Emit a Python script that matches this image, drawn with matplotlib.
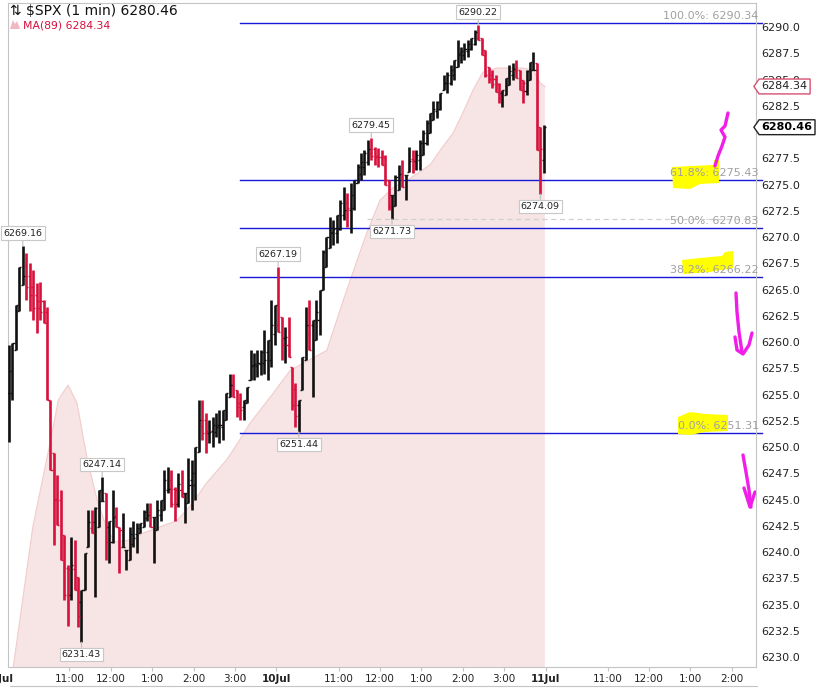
import matplotlib
matplotlib.use("Agg")
import matplotlib.pyplot as plt
from matplotlib.patches import Polygon
from matplotlib.lines import Line2D
from matplotlib.path import Path
import numpy as np

# 5-minute bars (Jul 9 then Jul 10)
highs = [
    6259.7, 6259.9, 6263.5, 6267.1, 6269.16, 6268.5, 6267.5, 6266.9, 6265.6, 6265.7,
    6264.0, 6263.3, 6254.5, 6249.4, 6247.3, 6245.9, 6241.6, 6238.8, 6241.4, 6241.1,
    6237.6, 6236.4, 6239.9, 6244.0, 6244.0, 6244.3, 6245.9, 6247.14, 6245.6, 6243.0,
    6245.9, 6244.3, 6242.4, 6243.7, 6240.2, 6242.4, 6243.0, 6242.8, 6242.8, 6244.0,
    6244.7, 6244.7, 6243.3, 6245.0, 6245.0, 6247.8, 6248.1, 6247.8, 6246.2, 6247.5,
    6247.8, 6245.6, 6249.0, 6248.8, 6250.0, 6254.5, 6254.5, 6253.2, 6252.6, 6252.9,
    6253.2, 6253.5, 6253.5, 6255.1, 6257.0, 6257.0, 6255.4, 6255.1, 6254.5, 6255.7,
    6259.2, 6259.0, 6259.2, 6259.2, 6261.1, 6260.2, 6264.0, 6263.5,
    6267.19, 6262.4, 6261.4, 6262.4, 6257.6, 6256.1, 6254.5, 6258.6, 6263.3, 6264.0,
    6262.1, 6264.0, 6265.0, 6268.8, 6270.0, 6271.9, 6271.6, 6272.1, 6273.5, 6274.8,
    6274.2, 6275.1, 6275.4, 6277.0, 6278.0, 6278.3, 6279.2, 6279.45, 6278.6, 6278.5,
    6278.3, 6277.8, 6275.4, 6274.0, 6275.9, 6276.9, 6277.3, 6275.9, 6278.6, 6278.3,
    6278.3, 6279.2, 6280.2, 6281.1, 6281.8, 6283.0, 6283.0, 6283.7, 6285.4, 6285.7,
    6286.4, 6286.9, 6288.8, 6288.1, 6288.5, 6288.8, 6289.0, 6289.7, 6290.22, 6289.0,
    6287.8, 6286.2, 6285.9, 6285.4, 6284.7, 6284.0, 6285.1, 6286.4, 6286.6, 6286.9,
    6285.9, 6285.0, 6285.9, 6286.7, 6287.6, 6286.6, 6280.5, 6280.7,
]
lows = [
    6250.5, 6254.5, 6259.2, 6263.0, 6265.4, 6264.0, 6263.0, 6262.1, 6260.9, 6262.1,
    6261.8, 6254.5, 6247.8, 6240.7, 6242.6, 6239.2, 6235.4, 6233.0, 6235.4, 6236.4,
    6232.9, 6231.43, 6236.4, 6240.5, 6241.8, 6235.7, 6242.4, 6244.9, 6239.2, 6239.0,
    6240.9, 6242.4, 6238.0, 6240.5, 6238.3, 6239.2, 6240.5, 6239.9, 6241.8, 6242.4,
    6243.0, 6242.4, 6239.0, 6242.1, 6243.0, 6244.0, 6245.6, 6244.3, 6243.0, 6244.3,
    6245.2, 6242.8, 6244.7, 6244.0, 6245.0, 6249.5, 6250.7, 6249.4, 6250.4, 6250.0,
    6251.0, 6250.4, 6250.7, 6252.6, 6254.8, 6254.8, 6252.9, 6252.6, 6252.6, 6254.2,
    6256.4, 6256.4, 6256.7, 6256.9, 6257.0, 6256.4, 6257.6, 6259.7,
    6261.0, 6258.3, 6258.0, 6258.6, 6253.5, 6251.9, 6251.44, 6255.4, 6258.3, 6259.2,
    6254.8, 6260.2, 6260.7, 6265.0, 6267.1, 6269.0, 6269.2, 6269.4, 6270.7, 6271.6,
    6271.0, 6270.4, 6272.6, 6275.1, 6275.4, 6275.9, 6276.9, 6277.3, 6276.9, 6276.7,
    6276.9, 6275.0, 6272.6, 6271.73, 6273.0, 6274.5, 6274.8, 6273.5, 6276.2, 6276.1,
    6276.4, 6276.4, 6277.8, 6278.8, 6279.9, 6281.1, 6281.3, 6282.1, 6284.0, 6283.7,
    6284.5, 6285.0, 6286.2, 6286.6, 6286.9, 6287.1, 6287.8, 6288.3, 6288.8, 6287.3,
    6285.2, 6284.7, 6284.2, 6283.8, 6282.8, 6282.4, 6283.5, 6284.5, 6285.0, 6285.1,
    6284.0, 6282.8, 6283.5, 6285.0, 6285.9, 6278.3, 6274.09, 6276.1,
]
last_close = 6280.46

# MA(89): minute index, value
ma_idx = [0, 37, 62, 74, 88, 101, 116, 130, 145, 156, 174, 197, 221, 246, 269, 289,
          318, 337, 352, 385, 410, 463, 487, 507, 521, 540, 559, 584, 613, 631, 646,
          660, 675, 689, 710, 747, 762, 772, 779]
ma_val = [6225.0, 6242.4, 6250.4, 6254.5, 6255.9, 6254.2, 6248.8, 6245.0, 6242.1,
          6241.0, 6241.1, 6241.8, 6242.4, 6243.0, 6244.7, 6246.6, 6248.8, 6250.7,
          6252.3, 6255.1, 6257.3, 6259.2, 6264.0, 6267.8, 6270.4, 6273.5, 6274.7,
          6275.6, 6276.9, 6278.6, 6279.9, 6281.8, 6284.0, 6285.7, 6286.1, 6286.1,
          6285.9, 6284.7, 6284.34]
ma_last = 6284.34

fib_pct = ["100.0%", "61.8%", "50.0%", "38.2%", "0.0%"]
fib_val = [6290.34, 6275.43, 6270.83, 6266.22, 6251.31]
fib_start = 337
support_level = 6271.73
support_start = 521

# labelled highs (+1) and lows (-1): bar number, side
marks = [(4, 1), (21, -1), (27, 1), (78, 1), (84, -1), (105, 1), (111, -1), (136, 1), (154, -1)]

tick_pos = [90, 150, 210, 270, 330, 390, 480, 540, 600, 660, 720, 780, 870, 930, 990, 1050]
tick_lab = ["11:00", "12:00", "1:00", "2:00", "3:00", "10Jul", "11:00", "12:00",
            "1:00", "2:00", "3:00", "11Jul", "11:00", "12:00", "1:00", "2:00"]
first_day = "9Jul"

W, H = 834, 689
RED = "#d7103c"
BLUE = "#1818d8"
GRAY = "#a0a0a0"

fig = plt.figure(figsize=(W / 100, H / 100), dpi=100)
ax = fig.add_axes([8 / W, 22 / H, 748 / W, 664 / H])
ax.set_xlim(1, 1085)
ax.set_ylim(6229.05, 6292.29)


def fpx(pts):
    # pixel position (from top-left) -> figure fraction, for the hand drawn marks
    return [(x / W, 1 - y / H) for x, y in pts]


def tagbox(x0, y0, width, height, mutation_size):
    # price tag with a pointed left side
    pad = mutation_size * 0.22
    x0, y0 = x0 - pad, y0 - pad
    x1, y1 = x0 + width + 2 * pad, y0 + height + 2 * pad
    tip = x0 - (y1 - y0) * 0.35
    return Path([(tip, (y0 + y1) / 2), (x0, y0), (x1, y0), (x1, y1), (x0, y1),
                 (tip, (y0 + y1) / 2)], closed=True)


# MA shaded area
ax.fill_between(ma_idx, ma_val, 6200, color="#f7e4e4", lw=0, zorder=1)
ax.plot(ma_idx, ma_val, color="#f2cccc", lw=0.8, zorder=1.2)

# OHLC bars
highs = np.array(highs)
lows = np.array(lows)
xs = np.arange(len(highs)) * 5 + 2.5
mids = (highs + lows) / 2
opens = np.clip(np.r_[mids[0], mids[:-1]], lows, highs)
closes = np.clip(np.r_[mids[1:], last_close], lows, highs)
cols = np.where(closes >= opens, "#111111", RED)
ax.vlines(xs, lows, highs, colors=cols, lw=1.9, zorder=3)
ax.hlines(opens, xs - 3.0, xs, colors=cols, lw=1.0, zorder=3)
ax.hlines(closes, xs, xs + 3.0, colors=cols, lw=1.0, zorder=3)

# fibonacci levels
for pct, v in zip(fib_pct, fib_val):
    ax.plot([fib_start, 1094], [v, v], color=BLUE, lw=1.0, zorder=2, clip_on=False)
    ax.text(1089, v + 0.2, f"{pct}: {v:.2f}", color=GRAY, fontsize=8, ha="right",
            va="bottom", zorder=4, clip_on=False)
ax.plot([support_start, 1085], [support_level, support_level], color="#d0d0d0",
        lw=0.9, ls=(0, (4, 3)), zorder=1.5)

# high / low labels
for k, side in marks:
    v = highs[k] if side > 0 else lows[k]
    ax.annotate(f"{v:.2f}", xy=(xs[k], v), xytext=(0, 9 * side), textcoords="offset points",
                ha="center", va="center", fontsize=6.8, color="#222222", zorder=6,
                annotation_clip=False,
                bbox=dict(boxstyle="square,pad=0.25", fc="white", ec="#c8c8c8", lw=0.8),
                arrowprops=dict(arrowstyle="-", color="#bdbdbd", lw=0.8, shrinkA=0, shrinkB=0))

# axes styling
for s in ax.spines.values():
    s.set_color("#c4c4c4")
    s.set_linewidth(0.8)
ax.yaxis.tick_right()
yt = np.arange(6230, 6290.1, 2.5)
ax.set_yticks(yt)
# 6280.0 sits fully under the last-price tag in the original
ax.set_yticklabels(["" if abs(t - 6280) < 0.01 else f"{t:.1f}" for t in yt])
ax.tick_params(axis="y", length=0, pad=4, labelsize=8, labelcolor="#222222")
ax.set_xticks(tick_pos)
ax.set_xticklabels(tick_lab)
ax.tick_params(axis="x", length=3, color="#c4c4c4", pad=2, labelsize=7.5, labelcolor="#222222")
for lab in ax.get_xticklabels():
    if "Jul" in lab.get_text():
        lab.set_fontweight("bold")
ax.text(-7, 6229.05 - 1.15, first_day, ha="center", va="center", fontsize=7.5,
        fontweight="bold", color="#222222", clip_on=False)

# price tags on the right scale
ax.annotate(f"{ma_last:.2f}", xy=(1, ma_last), xycoords=("axes fraction", "data"),
            xytext=(4, 0), textcoords="offset points", ha="left", va="center", fontsize=8,
            color="#222222", zorder=7, annotation_clip=False,
            bbox=dict(boxstyle=tagbox, fc="white", ec="#d85070", lw=1.0))
ax.annotate(f"{last_close:.2f}", xy=(1, last_close), xycoords=("axes fraction", "data"),
            xytext=(4, 0), textcoords="offset points", ha="left", va="center", fontsize=8,
            color="black", fontweight="bold", zorder=7, annotation_clip=False,
            bbox=dict(boxstyle=tagbox, fc="white", ec="#222222", lw=1.0))

# header
fig.text(10 / W, 1 - 11 / H, "\u21c5 $SPX (1 min) 6280.46", fontsize=10, va="center",
         color="#111111")
fig.text(23 / W, 1 - 25 / H, "MA(89) 6284.34", fontsize=7.8, va="center", color=RED)
icon = Polygon(fpx([(10, 29), (13, 20), (15, 24), (17, 21), (20, 29)]), closed=True,
               transform=fig.transFigure, fc="#f0b8c0", ec="none")
fig.add_artist(icon)

# yellow highlighter marks
hl = [
    [(672, 167), (713, 165), (714, 160), (719, 160), (719, 183), (700, 184), (690, 189), (673, 188)],
    [(682, 260), (700, 258), (722, 256), (725, 252), (733, 251), (733, 268), (710, 272), (683, 274)],
    [(678, 417), (690, 412), (705, 414), (728, 415), (728, 431), (705, 432), (690, 435), (678, 434)],
]
for pts in hl:
    ax.add_patch(Polygon(fpx(pts), closed=True, transform=fig.transFigure, fc="#ffff00",
                         ec="none", zorder=2.5))

# magenta pen strokes
strokes = [
    [(715, 166), (718, 156), (722, 146), (725, 137), (721, 130), (725, 126), (728, 113)],
    [(736, 293), (737, 312), (739, 332), (742, 352)],
    [(735, 337), (737, 350), (743, 354), (749, 345), (752, 333)],
    [(743, 455), (746, 472), (749, 490), (751, 507)],
    [(744, 488), (750, 507), (755, 492)],
]
for pts in strokes:
    p = fpx(pts)
    ax.add_line(Line2D([a for a, b in p], [b for a, b in p], transform=fig.transFigure,
                       color="#f01ee8", lw=2.4, solid_capstyle="round",
                       solid_joinstyle="round", zorder=8))

# line of the next panel
fig.add_artist(Line2D([10 / W, 757 / W], [1 - 686 / H, 1 - 686 / H], transform=fig.transFigure,
                      color="#c4c4c4", lw=0.8))

fig.savefig("out.png", dpi=100, facecolor="white")
